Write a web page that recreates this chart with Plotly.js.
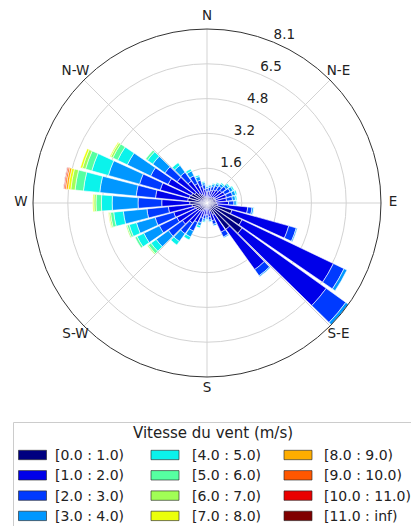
<!DOCTYPE html>
<html>
<head>
<meta charset="utf-8">
<script src="https://cdn.plot.ly/plotly-3.0.1.min.js"></script>
<style>
html,body{margin:0;padding:0;background:#fff;}
#chart{width:411px;height:526px;}
</style>
</head>
<body>
<div id="chart"></div>
<script>
// Directions (degrees, clockwise from North)
const directions = [0,10,20,30,40,50,60,70,80,90,100,110,120,130,140,150,160,170,180,190,200,210,220,230,240,250,260,270,280,290,300,310,320,330,340,350];

// Speed bins (m/s) labels
const speedLabels = ["[0.0 : 1.0)","[1.0 : 2.0)","[2.0 : 3.0)","[3.0 : 4.0)","[4.0 : 5.0)","[5.0 : 6.0)","[6.0 : 7.0)","[7.0 : 8.0)","[8.0 : 9.0)","[9.0 : 10.0)","[10.0 : 11.0)","[11.0 : inf)"];

// Frequencies per speed bin, one value per direction
const bin0_1  = [0.24,0.26,0.28,0.31,0.34,0.39,0.42,0.43,0.42,0.45,0.5,1.2,1.8,2.0,1.5,0.6,0.4,0.3,0.25,0.25,0.3,0.4,0.45,0.5,0.55,0.6,0.7,0.8,0.9,0.85,0.8,0.7,0.55,0.45,0.35,0.3];
const bin1_2  = [0.28,0.30,0.33,0.37,0.40,0.45,0.49,0.51,0.49,0.55,1.4,2.74,4.7,4.8,2.3,0.9,0.45,0.35,0.3,0.32,0.4,0.6,0.7,0.9,1.0,1.0,1.1,1.3,1.5,1.4,1.2,1.0,0.7,0.55,0.45,0.35];
const bin2_3  = [0.16,0.17,0.19,0.21,0.23,0.26,0.28,0.29,0.28,0.25,0.2,0.36,0.55,1.12,0.35,0.25,0.18,0.15,0.15,0.18,0.25,0.45,0.6,0.8,0.9,0.9,1.0,1.1,0.9,1.0,0.9,0.7,0.5,0.4,0.3,0.2];
const bin3_4  = [0.08,0.08,0.10,0.11,0.12,0.13,0.14,0.15,0.14,0.11,0.08,0.05,0.15,0.15,0.05,0.05,0.07,0.08,0.08,0.1,0.15,0.3,0.45,0.7,0.8,0.9,1.1,1.2,1.7,1.5,1.2,0.7,0.4,0.25,0.18,0.1];
const bin4_5  = [0.04,0.04,0.05,0.05,0.06,0.07,0.07,0.07,0.07,0.04,0.02,0,0,0,0,0,0,0.02,0.02,0.05,0.1,0.15,0.2,0.3,0.35,0.35,0.45,0.5,0.76,0.8,0.5,0.3,0.15,0.1,0.07,0.05];
const bin5_6  = [0,0,0,0,0,0,0,0,0,0,0,0,0,0,0,0,0,0,0,0,0,0,0,0.15,0.1,0.1,0.15,0.25,0.39,0.3,0.25,0.1,0,0,0,0];
const bin6_7  = [0,0,0,0,0,0,0,0,0,0,0,0,0,0,0,0,0,0,0,0,0,0,0,0.05,0,0.05,0.07,0.1,0.2,0.15,0.1,0,0,0,0,0];
const bin7_8  = [0,0,0,0,0,0,0,0,0,0,0,0,0,0,0,0,0,0,0,0,0,0,0,0,0,0,0.03,0.05,0.12,0.1,0.05,0,0,0,0,0];
const bin8_9  = [0,0,0,0,0,0,0,0,0,0,0,0,0,0,0,0,0,0,0,0,0,0,0,0,0,0,0,0,0.1,0,0,0,0,0,0,0];
const bin9_10 = [0,0,0,0,0,0,0,0,0,0,0,0,0,0,0,0,0,0,0,0,0,0,0,0,0,0,0,0,0.07,0,0,0,0,0,0,0];
const bin10_11= [0,0,0,0,0,0,0,0,0,0,0,0,0,0,0,0,0,0,0,0,0,0,0,0,0,0,0,0,0.05,0,0,0,0,0,0,0];
const bin11_inf=[0,0,0,0,0,0,0,0,0,0,0,0,0,0,0,0,0,0,0,0,0,0,0,0,0,0,0,0,0.01,0,0,0,0,0,0,0];

const bins = [bin0_1,bin1_2,bin2_3,bin3_4,bin4_5,bin5_6,bin6_7,bin7_8,bin8_9,bin9_10,bin10_11,bin11_inf];

// jet colormap sampled at 12 points
const colors = ["#000080","#0000e9","#003aff","#0097ff","#0bf3eb","#56ffa1","#a1ff56","#ebff0b","#ffad00","#ff5700","#e90000","#800000"];

const compass = ["N","N-E","E","S-E","S","S-W","W","N-W"];
const compassAngles = [0,45,90,135,180,225,270,315];

// radial max = largest stacked total; 5 equally spaced rings
const totals = directions.map((d,i)=>bins.reduce((s,b)=>s+b[i],0));
const rmax = Math.max(...totals);
const rTicks = [1,2,3,4,5].map(k=>rmax*k/5);
const rTickText = rTicks.map(v=>v.toFixed(1));

const FONT = {family:'DejaVu Sans',size:13.5,color:'#222'};

const traces = bins.map((b,i)=>({
  type:'barpolar',
  r:b,
  theta:directions,
  width:directions.map(()=>8.8),
  name:speedLabels[i],
  marker:{color:colors[i], line:{color:'#ffffff', width:0.6}},
  showlegend:false,
  hoverinfo:'skip'
}));

// radial tick labels (placed at 22.5° clockwise from North, upper-right of each ring)
traces.push({
  type:'scatterpolar', mode:'text',
  r:rTicks, theta:rTicks.map(()=>22.5),
  text:rTickText, textposition:'top right',
  textfont:FONT, cliponaxis:false, showlegend:false, hoverinfo:'skip'
});

const W=411,H=526;
const px=x=>x/W, py=y=>1-y/H;
const cx=207, cy=203, R=174;      // main polar circle (px)
const R2=190, labelR=186;         // label ring subplot (px units)

// compass labels on an overlay polar subplot, just outside the outer ring
traces.push({
  type:'scatterpolar', subplot:'polar2', mode:'text',
  r:compassAngles.map(()=>labelR), theta:compassAngles,
  text:compass, textposition:'middle center',
  textfont:FONT, cliponaxis:false, showlegend:false, hoverinfo:'skip'
});

const shapes=[], annotations=[];
// legend frame
shapes.push({type:'rect',xref:'paper',yref:'paper',x0:px(13.5),x1:px(420),y0:py(422.5),y1:py(540),
  line:{color:'#cccccc',width:1},fillcolor:'rgba(255,255,255,0)',layer:'above'});
annotations.push({xref:'paper',yref:'paper',x:px(212.5),y:py(433),text:'Vitesse du vent (m/s)',showarrow:false,
  xanchor:'center',yanchor:'middle',font:{family:'DejaVu Sans',size:15,color:'#222'}});
const swX=[18.5,151,284], txX=[52.5,189.5,321.5];
speedLabels.forEach((lab,i)=>{
  const col=Math.floor(i/4), row=i%4;
  const yc=455+row*20.3;
  shapes.push({type:'rect',xref:'paper',yref:'paper',x0:px(swX[col]),x1:px(swX[col]+28),y0:py(yc-4.7),y1:py(yc+4.7),
    fillcolor:colors[i],line:{color:'rgba(40,40,40,0.8)',width:0.8},layer:'above'});
  annotations.push({xref:'paper',yref:'paper',x:px(txX[col]),y:py(yc),text:lab,showarrow:false,
    xanchor:'left',yanchor:'middle',font:{family:'DejaVu Sans',size:14,color:'#222'}});
});

const layout={
  width:W,height:H,
  margin:{l:0,r:0,t:0,b:0},
  paper_bgcolor:'#ffffff',
  font:FONT,
  showlegend:false,
  polar:{
    domain:{x:[px(cx-R),px(cx+R)], y:[py(cy+R),py(cy-R)]},
    bgcolor:'#ffffff',
    barmode:'stack',
    bargap:0,
    angularaxis:{
      rotation:90, direction:'clockwise',
      tickmode:'array', tickvals:compassAngles, ticktext:compass, showticklabels:false,
      showline:true, linecolor:'#333333', linewidth:1,
      showgrid:true, gridcolor:'#d3d3d3', gridwidth:1,
      ticks:''
    },
    radialaxis:{
      range:[0,rmax], angle:67.5,
      tickmode:'array', tickvals:rTicks, ticktext:rTickText, showticklabels:false,
      showline:false, ticks:'', showgrid:true, gridcolor:'#d3d3d3', gridwidth:1
    }
  },
  polar2:{
    domain:{x:[px(cx-R2),px(cx+R2)], y:[py(cy+R2),py(cy-R2)]},
    bgcolor:'rgba(0,0,0,0)',
    angularaxis:{rotation:90, direction:'clockwise', showline:false, showgrid:false, showticklabels:false, ticks:''},
    radialaxis:{range:[0,R2], visible:false, showgrid:false, showline:false, showticklabels:false, ticks:''}
  },
  shapes:shapes,
  annotations:annotations
};

Plotly.newPlot('chart',traces,layout,{staticPlot:true,displayModeBar:false});
</script>
</body>
</html>
